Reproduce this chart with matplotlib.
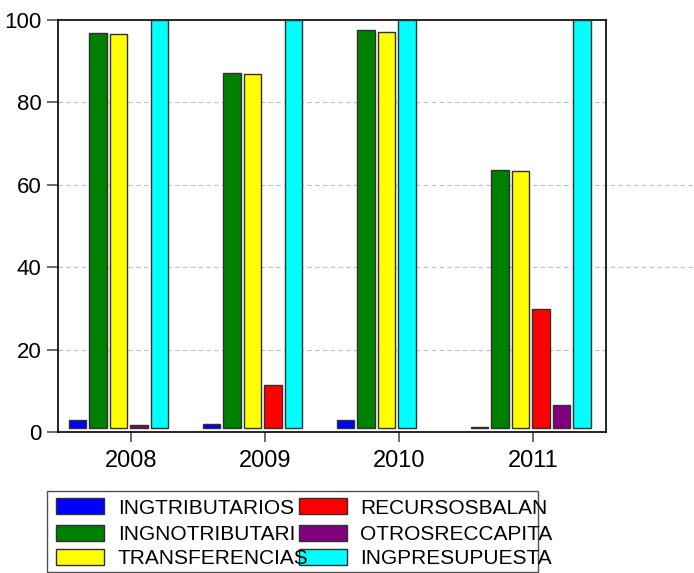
import numpy as np
import matplotlib
matplotlib.use("Agg")
from matplotlib import pyplot as plt
from matplotlib.patches import Rectangle

plt.rcParams['font.family'] = ['Liberation Sans', 'DejaVu Sans']

years = ["2008", "2009", "2010", "2011"]
series_names = ["INGTRIBUTARIOS", "INGNOTRIBUTARI", "TRANSFERENCIAS",
                "RECURSOSBALAN", "OTROSRECCAPITA", "INGPRESUPUESTA"]
series_colors = ["#0000ff", "#008000", "#ffff00", "#ff0000", "#800080", "#00ffff"]

# bar tops, nan = no bar
ingtributarios = [2.9, 1.9, 2.8, 1.3]
ingnotributari = [96.8, 87.1, 97.6, 63.6]
transferencias = [96.5, 86.8, 97.0, 63.4]
recursosbalan = [np.nan, 11.4, np.nan, 29.8]
otrosreccapita = [1.7, np.nan, np.nan, 6.5]
ingpresupuesta = [100.0, 100.0, 100.0, 100.0]
baseline = 1.0

all_series = [ingtributarios, ingnotributari, transferencias,
              recursosbalan, otrosreccapita, ingpresupuesta]

fig = plt.figure(figsize=(6.94, 5.73), dpi=100)
ax = fig.add_axes([58 / 694, 141 / 573, 548 / 694, 412 / 573])

slot = 0.153
width = 0.129
first = -0.40

for g in range(len(years)):
    k = 0
    for s, vals in enumerate(all_series):
        v = vals[g]
        if np.isnan(v):
            continue
        ax.bar(g + first + k * slot, v - baseline, width=width, bottom=baseline,
               color=series_colors[s], edgecolor="#303030", linewidth=1.0, zorder=3)
        k += 1

ax.set_xlim(-0.545, 3.545)
ax.set_ylim(0, 100)
ax.set_yticks([0, 20, 40, 60, 80, 100])
ax.set_xticks(range(len(years)))
ax.set_xticklabels(years)

for y in [20, 80]:
    ax.axhline(y, color="#c0c0c0", linestyle=(0, (4, 3)), linewidth=0.8, zorder=1)
for y in [40, 60]:
    ax.axhline(y, xmin=0, xmax=(694 - 58) / 548, color="#c0c0c0",
               linestyle=(0, (4, 3)), linewidth=0.8, zorder=1, clip_on=False)

ax.tick_params(axis="y", direction="out", length=8, width=1.3, color="#606060",
               labelsize=16, pad=4, right=False)
ax.tick_params(axis="x", direction="out", length=7, width=1.3, color="#606060",
               labelsize=17, pad=6, top=False)
for sp in ax.spines.values():
    sp.set_color("black")
    sp.set_linewidth(1.2)

# legend drawn by hand, text spills past the box like the original
W, H = 694.0, 573.0
fig.patches.append(Rectangle((47 / W, 1 - 572 / H), 491 / W, 81 / H,
                             transform=fig.transFigure, fill=False,
                             edgecolor="#505050", linewidth=1.0))
sw_x = [55.7, 299.0]
tx_x = [117.7, 360.0]
row_y = [506.0, 532.5, 557.0]
for i, name in enumerate(series_names):
    c, r = divmod(i, 3)
    fig.patches.append(Rectangle((sw_x[c] / W, 1 - (row_y[r] + 8) / H), 48.5 / W, 16 / H,
                                 transform=fig.transFigure, facecolor=series_colors[i],
                                 edgecolor="#303030", linewidth=1.0))
    fig.text(tx_x[c] / W, 1 - row_y[r] / H, name, fontsize=15,
             ha="left", va="center_baseline")

fig.savefig("out.png", dpi=100)
